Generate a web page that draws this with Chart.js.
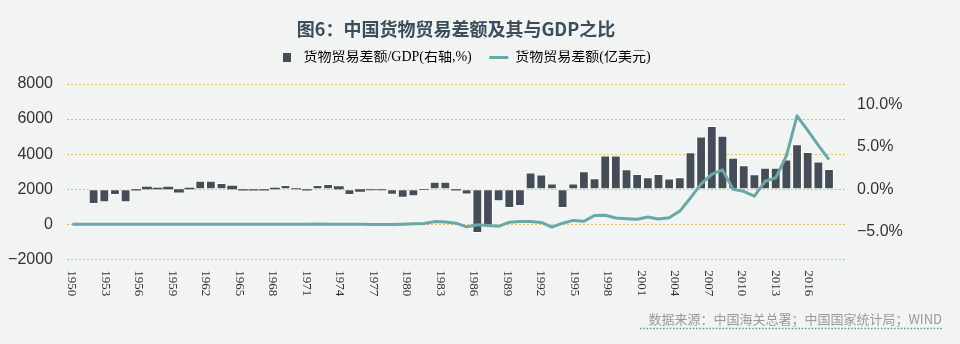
<!DOCTYPE html>
<html>
<head>
<meta charset="utf-8">
<script src="https://cdn.jsdelivr.net/npm/chart.js@4.4.1/dist/chart.umd.min.js"></script>
<style>
  html, body { margin: 0; padding: 0; background: #f1f4f3; }
  #wrap { width: 960px; height: 344px; position: relative; }
  canvas { display: block; }
</style>
</head>
<body>
<div id="wrap"><canvas id="chart" width="960" height="344"></canvas></div>
<script>
// ---------------- data ----------------
const titleText = '图6：中国货物贸易差额及其与GDP之比';
const sourceText = '数据来源：中国海关总署；中国国家统计局；WIND';
const seriesNames = ['货物贸易差额/GDP(右轴,%)', '货物贸易差额(亿美元)'];

// data slots (the last one is an empty slot at the right end of the axis)
const periods = [
  '1947','1948','1949','1950','1951','1952','1953','1954','1955','1956',
  '1957','1958','1959','1960','1961','1962','1963','1964','1965','1966',
  '1967','1968','1969','1970','1971','1972','1973','1974','1975','1976',
  '1977','1978','1979','1980','1981','1982','1983','1984','1985','1986',
  '1987','1988','1989','1990','1991','1992','1993','1994','1995','1996',
  '1997','1998','1999','2000','2001','2002','2003','2004','2005','2006',
  '2007','2008','2009','2010','2011','2012','2013','2014','2015','2016',
  '2017','2018','2019'
];

// 货物贸易差额 (亿美元), left axis
const tradeBalance = [
  -3, -4, -3, -3, -1, -3, 1, 1, 1, 1,
  -1, 0, 3, 4, 4, 2, 1, 1, 2, 4,
  -1, 4, 6, 7, -7, -2, 3, 4, -11, -20,
  -19, 0, 30, 40, 150, 130, 60, -150, -30, -70,
  -120, 120, 150, 150, 100, -160, 60, 220, 170, 500,
  510, 360, 320, 290, 410, 300, 370, 750, 1500, 2300,
  2850, 3100, 2000, 1880, 1600, 2450, 2650, 3900, 6180, 5350,
  4500, 3680
];

// 货物贸易差额/GDP (%), right axis
const balanceToGdp = [
  null, null, -1.74, -1.55, -0.70, -1.55, -0.15, 0.27, 0.18, 0.27,
  -0.39, 0.18, 1.0, 1.0, 0.72, 0.39, -0.15, -0.15, -0.15, 0.16,
  0.5, 0.12, -0.17, 0.5, 0.62, 0.35, -0.68, -0.3, -0.12, -0.12,
  -0.65, -1.0, -0.82, -0.1, 0.87, 0.87, -0.15, -0.62, -5.15, -4.3,
  -1.42, -2.22, -1.97, 1.97, 1.72, 0.68, -2.22, 0.68, 2.1, 1.28,
  3.95, 3.95, 2.33, 1.79, 1.4, 1.79, 1.24, 1.4, 4.35, 6.2,
  7.44, 6.28, 3.69, 2.8, 1.75, 2.52, 2.52, 3.49, 5.28, 4.38,
  3.26, 2.37
];

// tick labels
const yearTicks = [1950, 1953, 1956, 1959, 1962, 1965, 1968, 1971, 1974, 1977, 1980,
                   1983, 1986, 1989, 1992, 1995, 1998, 2001, 2004, 2007, 2010, 2013, 2016];
const leftTicks = [-2000, 0, 2000, 4000, 6000, 8000];
const rightTicks = [-5, 0, 5, 10];

// ---------------- style ----------------
const BAR = '#454e58';
const LINE = '#6aa8a7';
const GRID = '#e0be58';
const TXT = '#333333';
const MINUS = '\u2212';

const barMarker = document.createElement('canvas');
barMarker.width = 8; barMarker.height = 9;
(function () { const g = barMarker.getContext('2d'); g.fillStyle = BAR; g.fillRect(0, 0, 8, 9); })();

const decorPlugin = {
  id: 'decor',
  afterDraw(chart) {
    const ctx = chart.ctx;
    const s = chart.scales.xYear;
    ctx.save();
    // year labels, rotated to read top to bottom
    ctx.font = '13px "Liberation Serif"';
    ctx.fillStyle = TXT;
    ctx.textAlign = 'left';
    ctx.textBaseline = 'middle';
    s.ticks.forEach(t => {
      const x = s.getPixelForValue(t.value);
      ctx.save();
      ctx.translate(x, s.top + 11);
      ctx.rotate(Math.PI / 2);
      ctx.fillText(String(t.value), 0, 0);
      ctx.restore();
    });
    // dotted rule under the source note
    ctx.strokeStyle = '#4f9d9c';
    ctx.lineWidth = 1.5;
    ctx.setLineDash([1.5, 1.8]);
    ctx.beginPath();
    ctx.moveTo(chart.width - 320, chart.height - 15.5);
    ctx.lineTo(chart.width - 18, chart.height - 15.5);
    ctx.stroke();
    ctx.restore();
  }
};

new Chart(document.getElementById('chart'), {
  type: 'bar',
  data: {
    labels: periods,
    datasets: [
      {
        type: 'bar',
        label: seriesNames[0],
        data: balanceToGdp,
        xAxisID: 'x',
        yAxisID: 'yR',
        backgroundColor: BAR,
        borderColor: '#ffffff',
        borderWidth: c => (Math.abs(c.raw || 0) < 0.45 ? 0 : 1),
        borderSkipped: false,
        barPercentage: 0.92,
        categoryPercentage: 1.0,
        order: 2
      },
      {
        type: 'line',
        label: seriesNames[1],
        data: tradeBalance,
        xAxisID: 'x',
        yAxisID: 'y',
        borderColor: LINE,
        backgroundColor: LINE,
        borderWidth: 3,
        pointRadius: 0,
        tension: 0,
        borderJoinStyle: 'round',
        order: 1
      }
    ]
  },
  options: {
    responsive: false,
    animation: false,
    devicePixelRatio: 1,
    layout: { padding: { left: 0, right: 18, top: 0, bottom: 10 } },
    plugins: {
      tooltip: { enabled: false },
      title: {
        display: true,
        text: titleText,
        fullSize: false,
        color: '#3b4d5a',
        font: { family: '"Noto Sans CJK SC"', size: 18, weight: 'bold', lineHeight: 1.2 },
        padding: { top: 18, bottom: 11 }
      },
      legend: {
        display: true,
        position: 'top',
        fullSize: true,
        labels: {
          usePointStyle: true,
          pointStyleWidth: 19,
          padding: 0,
          color: TXT,
          font: { family: '"Liberation Serif", "Noto Sans CJK SC"', size: 14 },
          generateLabels: () => [
            { text: seriesNames[0] + '     ', pointStyle: barMarker, fillStyle: BAR, strokeStyle: BAR, lineWidth: 0, hidden: false, datasetIndex: 0 },
            { text: seriesNames[1] + '    ', pointStyle: 'line', fillStyle: LINE, strokeStyle: LINE, lineWidth: 3, hidden: false, datasetIndex: 1 }
          ]
        }
      },
      subtitle: {
        display: true,
        position: 'bottom',
        align: 'end',
        text: sourceText,
        color: '#9a9a9a',
        font: { family: '"Noto Sans CJK SC"', size: 13, lineHeight: 1.2 },
        padding: { top: 0, bottom: 7 }
      }
    },
    scales: {
      x: {
        type: 'category',
        position: 'top',
        offset: true,
        grid: { display: false, drawTicks: false },
        border: { display: false },
        ticks: { display: false },
        afterFit(s) { s.height = 9.4; }
      },
      xYear: {
        type: 'linear',
        position: 'bottom',
        offset: false,
        min: 1949.6,
        max: 2019.25,
        grid: { display: false, drawTicks: false, offset: false },
        border: { display: false },
        ticks: { display: false, callback: v => String(v) },
        afterBuildTicks(s) { s.ticks = yearTicks.map(v => ({ value: v })); },
        afterFit(s) { s.height = 52.1; }
      },
      y: {
        type: 'linear',
        position: 'left',
        min: leftTicks[0],
        max: leftTicks[leftTicks.length - 1],
        afterBuildTicks(s) { s.ticks = leftTicks.map(v => ({ value: v })); },
        grid: { color: GRID, lineWidth: 1, drawTicks: false },
        border: { display: false, dash: [2, 2] },
        ticks: {
          padding: 14,
          color: TXT,
          font: { family: '"Liberation Sans"', size: 16 },
          callback: v => (v < 0 ? MINUS + Math.abs(v) : String(v))
        },
        afterFit(s) { s.width = 67; }
      },
      yR: {
        type: 'linear',
        position: 'right',
        min: -8.25,
        max: 12.37,
        afterBuildTicks(s) { s.ticks = rightTicks.map(v => ({ value: v })); },
        grid: { display: false, drawTicks: false },
        border: { display: false },
        ticks: {
          padding: 12,
          color: TXT,
          font: { family: '"Liberation Sans"', size: 16 },
          callback: v => (v < 0 ? MINUS : '') + Math.abs(v).toFixed(1) + '%'
        },
        afterFit(s) { s.width = 97; }
      }
    }
  },
  plugins: [decorPlugin]
});
</script>
</body>
</html>
